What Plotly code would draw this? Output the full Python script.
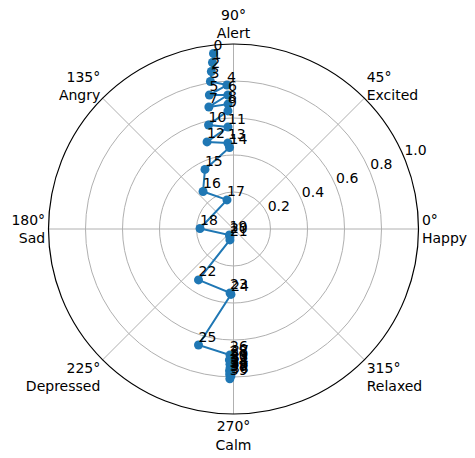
import plotly.graph_objects as go

# trajectory (angle in degrees, radius 0..1)
theta = [96.5, 97.2, 98.0, 98.9, 92.6, 100.2, 92.4, 101.4, 92.5, 92.7,
         103.5, 93.1, 106.9, 93.7, 92.8, 115.6, 129.1, 102.6, 179.1, 236.0,
         246.0, 252.0, 235.5, 266.9, 267.8, 253.2, 268.4, 268.9, 268.2, 268.7,
         268.5, 269.0, 268.6, 268.9, 268.4, 268.8, 268.7, 268.5, 269.0, 268.6]
r = [0.955, 0.907, 0.860, 0.807, 0.779, 0.736, 0.725, 0.673, 0.676, 0.639,
     0.578, 0.552, 0.492, 0.466, 0.441, 0.357, 0.261, 0.161, 0.181, 0.039,
     0.047, 0.062, 0.334, 0.346, 0.354, 0.655, 0.681, 0.700, 0.708, 0.722,
     0.731, 0.738, 0.750, 0.757, 0.766, 0.771, 0.780, 0.788, 0.795, 0.810]
labels = [str(i) for i in range(len(r))]

tick_angles = [0, 45, 90, 135, 180, 225, 270, 315]
emotions = ['Happy', 'Excited', 'Alert', 'Angry', 'Sad', 'Depressed', 'Calm', 'Relaxed']
radial_ticks = [0.2, 0.4, 0.6, 0.8, 1.0]
radial_label_angle = 22.5

fig = go.Figure()
fig.add_trace(go.Scatterpolar(
    r=r, theta=theta,
    mode='lines+markers',
    line=dict(color='#1f77b4', width=2),
    marker=dict(color='#1f77b4', size=9),
    cliponaxis=False,
))
# point index labels (lower-left corner at the point, like annotate)
fig.add_trace(go.Scatterpolar(
    r=r, theta=theta,
    mode='text', text=labels,
    textposition='top right',
    textfont=dict(size=14, color='black'),
    cliponaxis=False,
))
# radial tick labels, horizontal, next to the 22.5 deg direction
fig.add_trace(go.Scatterpolar(
    r=radial_ticks, theta=[radial_label_angle] * len(radial_ticks),
    mode='text', text=[f'{v:.1f}' for v in radial_ticks],
    textposition='top right',
    textfont=dict(size=14, color='black'),
    cliponaxis=False,
))

fig.update_layout(
    width=475, height=458,
    margin=dict(l=0, r=0, t=0, b=0),
    paper_bgcolor='white',
    font=dict(family='DejaVu Sans', size=14, color='black'),
    showlegend=False,
    polar=dict(
        domain=dict(x=[48.5 / 475, 418.5 / 475], y=[44 / 458, 414 / 458]),
        bgcolor='white',
        angularaxis=dict(
            direction='counterclockwise', rotation=0,
            tickmode='array', tickvals=tick_angles,
            ticktext=[f'{a}°<br>{e}' for a, e in zip(tick_angles, emotions)],
            showline=True, linecolor='black', linewidth=1.2,
            gridcolor='#b0b0b0', gridwidth=0.8, ticks='',
        ),
        radialaxis=dict(
            range=[0, 1], tickmode='array', tickvals=radial_ticks,
            showticklabels=False, angle=radial_label_angle,
            showline=False, ticks='',
            gridcolor='#b0b0b0', gridwidth=0.8,
        ),
    ),
)

fig.write_html("out.html", config={'displayModeBar': False},
               post_script="document.body.style.margin='0';")
